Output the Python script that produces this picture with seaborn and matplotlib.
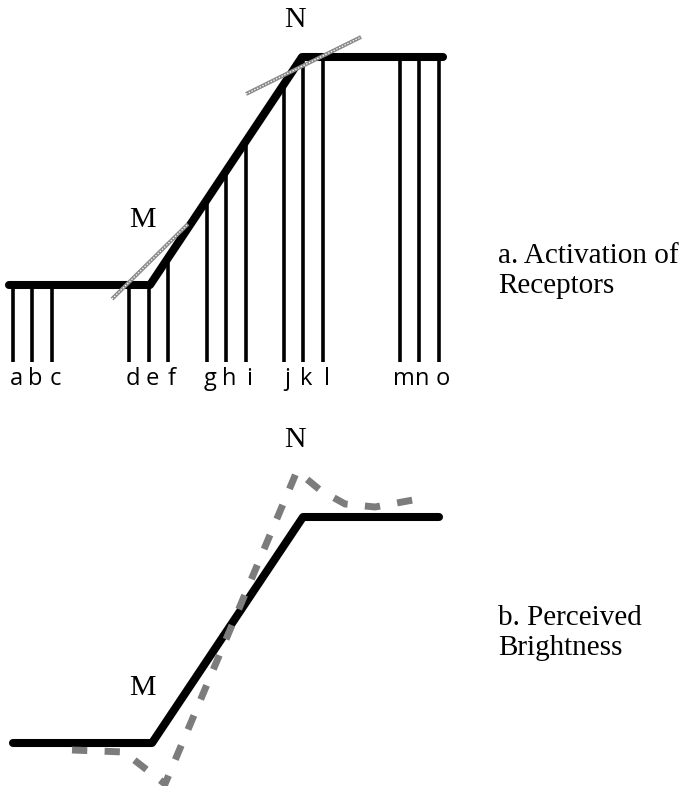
"""
Mach bands: receptor activation vs perceived brightness.
"""

import numpy as np
import pandas as pd
import matplotlib.pyplot as plt
import seaborn as sns

# --- data (figure pixel units, y grows downward) ---
receptor_labels = list('abcdefghijklmno')
receptor_x = [13, 32, 52, 129, 149, 168, 207, 226, 246, 284, 303, 323, 400, 419, 439]
receptor_base = 362

activation_x = [9, 150, 302, 443]
activation_y = [285, 285, 57, 57]

tangent_m_x = [112, 188]
tangent_m_y = [299, 224]
tangent_n_x = [246, 361]
tangent_n_y = [94, 37]

luminance_x = [13, 152, 303, 439]
luminance_y = [743, 743, 517, 517]

perceived_x = [72, 124, 165, 297, 320, 345, 375, 413]
perceived_y = [750, 752, 784, 471, 490, 504, 507, 500]

sns.set_style('white')
plt.rcParams['font.family'] = ['Liberation Serif', 'DejaVu Serif']
plt.rcParams['text.color'] = 'black'
plt.rcParams['lines.scale_dashes'] = False

fig = plt.figure(figsize=(6.89, 7.86), dpi=100)
ax = fig.add_axes([0, 0, 1, 1])
ax.set_xlim(0, 689)
ax.set_ylim(786, 0)
ax.set_axis_off()

# receptors: vertical bars from the base up to the activation curve
tops = np.interp(receptor_x, activation_x, activation_y)
ax.vlines(receptor_x, tops, receptor_base, color='black', lw=2.6, zorder=1)
for lab, x in zip(receptor_labels, receptor_x):
    ax.text(x + 3.5, 385, lab, ha='center', va='baseline', fontsize=17,
            family='Open Sans')

# activation curve (top)
act = pd.DataFrame({'x': activation_x, 'y': activation_y})
sns.lineplot(data=act, x='x', y='y', ax=ax, color='black', lw=5.8,
             sort=False, estimator=None, zorder=3)

# stippled tangents at M and N
for tx, ty in [(tangent_m_x, tangent_m_y), (tangent_n_x, tangent_n_y)]:
    ax.plot(tx, ty, color='#8a8a8a', lw=2.8, solid_capstyle='butt', zorder=4)
    ax.plot(tx, ty, color='white', lw=0.9, ls=(0, (1, 1.2)), zorder=5)

# luminance profile (bottom)
lum = pd.DataFrame({'x': luminance_x, 'y': luminance_y})
sns.lineplot(data=lum, x='x', y='y', ax=ax, color='black', lw=5.8,
             sort=False, estimator=None, zorder=3)

# perceived brightness, dashed stipple
per = pd.DataFrame({'x': perceived_x, 'y': perceived_y})
sns.lineplot(data=per, x='x', y='y', ax=ax, color='#7c7c7c', lw=5.0,
             sort=False, estimator=None, zorder=4)
per_line = ax.lines[-1]
per_line.set_dashes((11.0, 12.5))
per_line.set_dash_capstyle('butt')

# labels
for y_base in (227, 695):
    ax.text(142, y_base, 'M', ha='center', va='baseline', fontsize=21.5)
for y_base in (27, 447):
    ax.text(295, y_base, 'N', ha='center', va='baseline', fontsize=21.5)

# va='baseline' on multi-line text anchors the last line
ax.text(498, 293, 'a. Activation of\nReceptors', ha='left', va='baseline',
        fontsize=21, linespacing=1.2)
ax.text(498, 655, 'b. Perceived\nBrightness', ha='left', va='baseline',
        fontsize=21, linespacing=1.2)

fig.savefig('out.png', dpi=100)
